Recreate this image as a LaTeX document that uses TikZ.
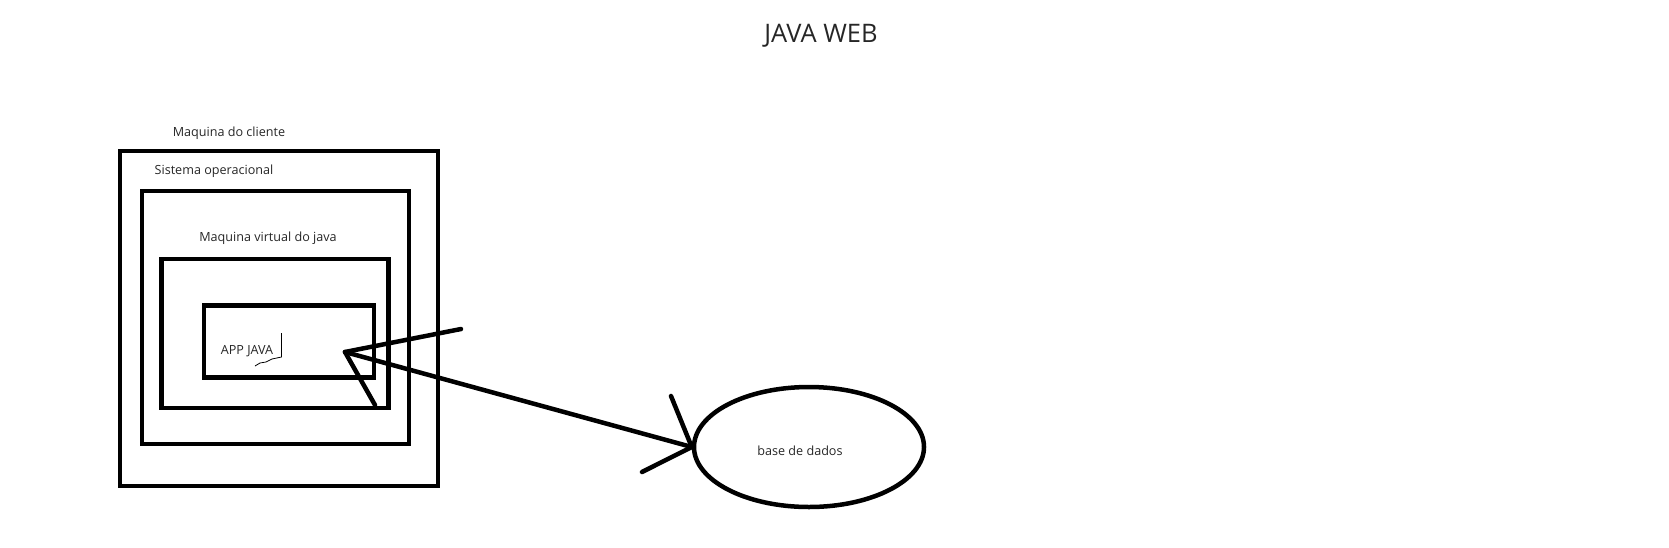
\documentclass[tikz,border=0pt]{standalone}
\usepackage{fontspec}
\setmainfont{Open Sans}
\usetikzlibrary{shapes.geometric,positioning}

\begin{document}
\begin{tikzpicture}
		[x=1pt, y=-1pt, inner sep=0pt,
		label/.style	= {font=\fontsize{12.6}{14}\selectfont, text=black!85},
		layer/.style	= {rectangle, draw, line width=4.5pt},
		store/.style	= {ellipse, draw, line width=4.5pt, minimum width=230pt, minimum height=120pt},
		paths/.style	= {line width=4.5pt, line cap=round}]
		
		\useasboundingbox (0,0) rectangle (1669,547);
		
		\node at (821, 36)		[font=\fontsize{25.5}{28}\selectfont, text=black!85]	(title)	{JAVA WEB};
		
		\node at (279, 318.5)	[layer, minimum width=318pt, minimum height=335pt]	(cli)	{};
		\node at (275.3, 317.5)	[layer, minimum width=267pt, minimum height=253pt]	(so)	{};
		\node at (275.2, 333.5)	[layer, minimum width=227pt, minimum height=149pt]	(jvm)	{};
		\node at (289, 341.5)	[layer, minimum width=170pt, minimum height=72pt]	(app)	{};
		
		\node at (229, 133)		[label]		(lcli)	{Maquina do cliente};
		\node at (214, 171)		[label]		(lso)	{Sistema operacional};
		\node at (268, 238)		[label]		(ljvm)	{Maquina virtual do java};
		\node at (247, 351)		[label]		(lapp)	{APP JAVA};
		
		\node at (809, 447)		[store]		(db)	{};
		\node at (800, 451)		[label]		(ldb)	{base de dados};
		
		% ponta do lado da app
		\coordinate (tip)	at (345, 352);
		\coordinate (t1)	at (461, 329);
		\coordinate (t2)	at (375, 405);
		
		% ponta do lado da base
		\coordinate (d1)	at (671, 396);
		\coordinate (d2)	at (642, 472);
		
		\draw [paths] (tip) -- (db.west);
		\draw [paths] (tip) -- (t1);
		\draw [paths] (tip) -- (t2);
		\draw [paths] (db.west) -- (d1);
		\draw [paths] (db.west) -- (d2);
		
		% marca do cursor
		\draw [line width=0.8pt] (281.5, 333) -- (281.5, 357) -- (272, 359) -- (266, 362) -- (260, 363) -- (255, 366);
		
\end{tikzpicture}
\end{document}
